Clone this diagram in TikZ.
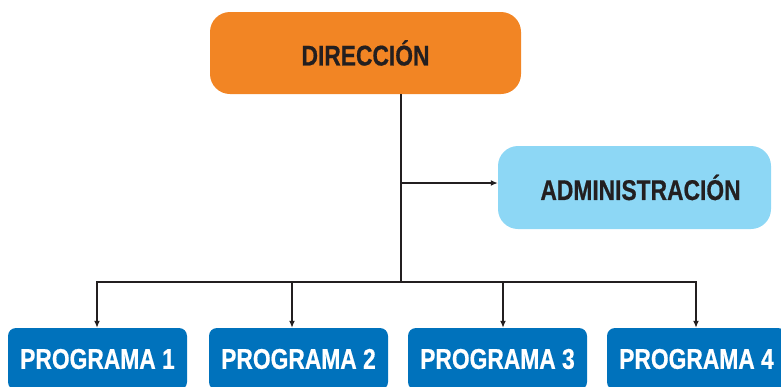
\documentclass[tikz,border=0pt]{standalone}
\usepackage{fontspec}
\setmainfont{Liberation Sans}[FakeStretch=0.8,FakeBold=0.6]
\usetikzlibrary{arrows.meta}
\definecolor{naranja}{HTML}{F28524}
\definecolor{celeste}{HTML}{8DD7F5}
\definecolor{azul}{HTML}{0072BC}
\definecolor{tinta}{HTML}{231F20}

\begin{document}
\begin{tikzpicture}
[x=1pt,y=-1pt,
caja/.style={rounded corners=20pt,inner sep=0pt,text=tinta,font=\bfseries\fontsize{28.5}{30}\selectfont},
prog/.style={caja,rounded corners=8pt,fill=azul,text=white,minimum width=179pt,minimum height=62pt},
linea/.style={line width=2.2pt,draw=tinta},
flecha/.style={linea,-{Latex[length=7pt,width=6pt]}}]
\useasboundingbox (0,0) rectangle (781,386);
\node[caja,fill=naranja,minimum width=311pt,minimum height=82pt] (dir) at (365.5,53) {DIRECCIÓN};
\node[caja,fill=celeste,minimum width=273pt,minimum height=83pt] (adm) at (634.5,187.5) {\hspace{12pt}ADMINISTRACIÓN};
\node[prog] (p1) at (97.5,359) {PROGRAMA 1};
\node[prog] (p2) at (298.5,359) {PROGRAMA 2};
\node[prog] (p3) at (497.5,359) {PROGRAMA 3};
\node[prog] (p4) at (696.5,359) {PROGRAMA 4};
\coordinate (t) at (401,282);
\coordinate (a) at (401,183);
\coordinate (c1) at (97,282);
\coordinate (c2) at (292,282);
\coordinate (c3) at (503,282);
\coordinate (c4) at (696,282);
\draw[linea] (dir.south -| t) -- (t);
\draw[flecha] (a) -- (a -| adm.west);
\draw[linea,line cap=rect] (c1) -- (c4);
\foreach \from/\to in {c1/p1,c2/p2,c3/p3,c4/p4}
\draw[flecha] (\from) -- (\from |- \to.north);
\end{tikzpicture}
\end{document}
